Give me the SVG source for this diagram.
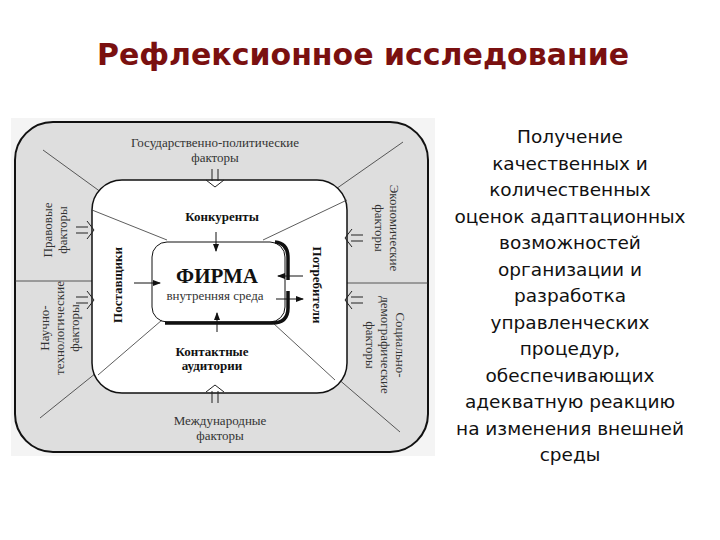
<svg xmlns="http://www.w3.org/2000/svg" width="720" height="540" viewBox="0 0 720 540">
<style>
.f{font-family:"Liberation Serif",serif;font-size:13px;fill:#333;text-anchor:middle}
.b{font-family:"Liberation Serif",serif;font-size:13px;font-weight:bold;fill:#111;text-anchor:middle}
.r{font-family:"DejaVu Sans",sans-serif;font-size:18.5px;fill:#111;text-anchor:middle}
.ln{stroke:#333;stroke-width:0.8;fill:none}
.ar{stroke:#111;stroke-width:1;fill:none;marker-end:url(#m)}
.dbl{stroke:#222;stroke-width:1;fill:none}
</style>
<defs>
<marker id="m" markerWidth="8" markerHeight="6" refX="7" refY="3" orient="auto" markerUnits="userSpaceOnUse"><path d="M0,0 L8,3 L0,6 Z" fill="#111"/></marker>
<g id="da"><path d="M-3,-16 V-4 M3,-16 V-4" class="dbl"/><path d="M-9,-5 L0,2 L9,-5" class="dbl"/></g>
</defs>
<rect width="720" height="540" fill="#fff"/>
<text x="363" y="65" font-family="DejaVu Sans,sans-serif" font-size="30" font-weight="bold" fill="#7a1010" text-anchor="middle">Рефлексионное исследование</text>
<g id="diagram">
<rect x="11" y="118" width="424" height="338" fill="#f4f4f4"/>
<rect id="outer" x="15" y="122" width="413" height="330" rx="38" fill="#dedede" stroke="#111" stroke-width="2"/>
<g id="connectors">
<line class="ln" x1="43" y1="150" x2="167" y2="240"/>
<line class="ln" x1="403" y1="142" x2="263" y2="240"/>
<line class="ln" x1="40" y1="418" x2="162" y2="320"/>
<line class="ln" x1="400" y1="432" x2="273" y2="323"/>
<line class="ln" x1="15" y1="281" x2="92" y2="281"/>
<line class="ln" x1="347" y1="283" x2="428" y2="283"/>
</g>
<rect id="middle" x="92" y="180" width="255" height="213" rx="30" fill="#fff" stroke="#111" stroke-width="1.5"/>
<g id="connectors2">
<line class="ln" x1="92" y1="210" x2="167" y2="240"/>
<line class="ln" x1="347" y1="200" x2="263" y2="240"/>
<line class="ln" x1="98" y1="375" x2="162" y2="320"/>
<line class="ln" x1="335" y1="380" x2="273" y2="323"/>
<use href="#da" transform="translate(215,185)"/>
<use href="#da" transform="translate(215,387) rotate(180)"/>
<use href="#da" transform="translate(92,230) rotate(-90)"/>
<use href="#da" transform="translate(92,300) rotate(-90)"/>
<use href="#da" transform="translate(347,238) rotate(90)"/>
<use href="#da" transform="translate(347,300) rotate(90)"/>
<line class="ar" x1="216" y1="232" x2="216" y2="251"/>
<line class="ar" x1="217" y1="332" x2="217" y2="313"/>
<line class="ar" x1="134" y1="283" x2="160" y2="283"/>
<line class="ar" x1="303" y1="276" x2="278" y2="276"/>
<line class="ar" x1="276" y1="299" x2="303" y2="299"/>
</g>
<g id="firma">
<rect x="152" y="242" width="133" height="80" rx="15" fill="none" stroke="#111" stroke-width="1"/>
<path d="M275,242 Q288,243 288,258 V280 M288,291 V308 Q288,323 272,323 H165" fill="none" stroke="#111" stroke-width="3.5"/>
<text x="217" y="283" font-family="Liberation Serif,serif" font-size="21" font-weight="bold" fill="#111" text-anchor="middle">ФИРМА</text>
<text x="215" y="300" class="f" fill="#111">внутренняя среда</text>
</g>
<g id="inner-labels">
<text class="b" x="222" y="221">Конкуренты</text>
<text class="b" x="212" y="356">Контактные</text>
<text class="b" x="212" y="370">аудитории</text>
<text class="b" transform="translate(122,285) rotate(-90)">Поставщики</text>
<text class="b" transform="translate(313,285) rotate(90)">Потребители</text>
</g>
<g id="outer-labels">
<text class="f" x="215" y="147">Государственно-политические</text>
<text class="f" x="215" y="162">факторы</text>
<text class="f" x="220" y="425">Международные</text>
<text class="f" x="220" y="440">факторы</text>
<g transform="translate(55,230) rotate(-90)"><text class="f" y="-3">Правовые</text><text class="f" y="12">факторы</text></g>
<g transform="translate(60,328) rotate(-90)"><text class="f" y="-11">Научно-</text><text class="f" y="4">технологические</text><text class="f" y="19">факторы</text></g>
<g transform="translate(387,228) rotate(90)"><text class="f" y="-3">Экономические</text><text class="f" y="12">факторы</text></g>
<g transform="translate(385,345) rotate(90)"><text class="f" y="-11">Социально-</text><text class="f" y="4">демографические</text><text class="f" y="19">факторы</text></g>
</g>
</g>
<g id="caption">
<text class="r" x="570" y="143">Получение</text>
<text class="r" x="570" y="169.5">качественных и</text>
<text class="r" x="570" y="196">количественных</text>
<text class="r" x="570" y="222.5">оценок адаптационных</text>
<text class="r" x="570" y="249">возможностей</text>
<text class="r" x="570" y="275.5">организации и</text>
<text class="r" x="570" y="302">разработка</text>
<text class="r" x="570" y="328.5">управленческих</text>
<text class="r" x="570" y="355">процедур,</text>
<text class="r" x="570" y="381.5">обеспечивающих</text>
<text class="r" x="570" y="408">адекватную реакцию</text>
<text class="r" x="570" y="434.5">на изменения внешней</text>
<text class="r" x="570" y="461">среды</text>
</g>
</svg>
